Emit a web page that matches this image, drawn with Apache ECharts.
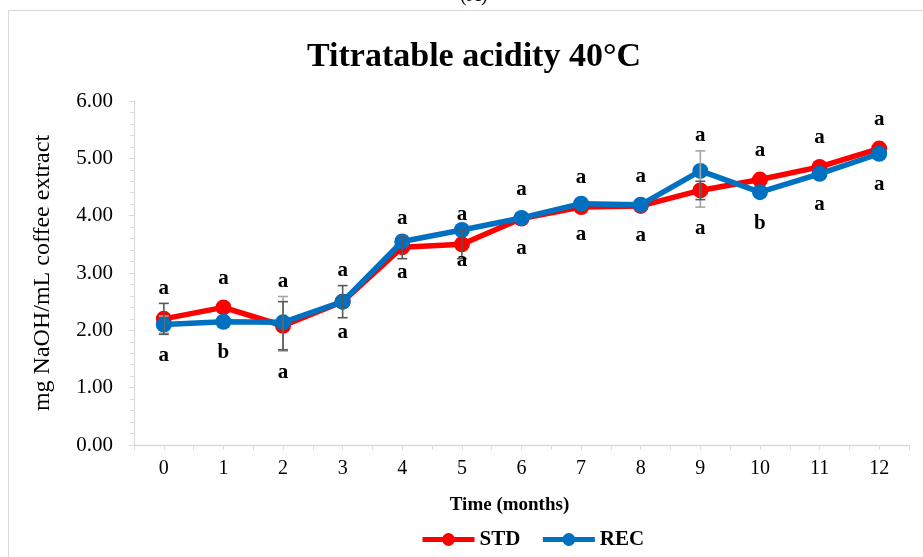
<!DOCTYPE html>
<html>
<head>
<meta charset="utf-8">
<script src="https://cdn.jsdelivr.net/npm/echarts@6/dist/echarts.min.js"></script>
<style>
  html, body { margin: 0; padding: 0; background: #fff; }
  #grafico { width: 923px; height: 557px; }
</style>
</head>
<body>
<div id="grafico"></div>
<script>
var meses = [0, 1, 2, 3, 4, 5, 6, 7, 8, 9, 10, 11, 12];
var std = [2.20, 2.40, 2.08, 2.50, 3.45, 3.50, 3.95, 4.15, 4.17, 4.44, 4.63, 4.85, 5.17];
var rec = [2.10, 2.15, 2.14, 2.50, 3.55, 3.75, 3.96, 4.21, 4.19, 4.78, 4.41, 4.73, 5.08];
var stdErroCima = [0.27, 0, 0.42, 0.28, 0.20, 0.25, 0, 0, 0, 0.16, 0, 0, 0];
var stdErroBaixo = [0.27, 0, 0.42, 0.28, 0.20, 0.25, 0, 0, 0, 0.16, 0, 0, 0];
var recErroCima = [0.15, 0, 0.45, 0, 0, 0, 0, 0, 0, 0.35, 0, 0, 0];
var recErroBaixo = [0.15, 0, 0.50, 0, 0, 0, 0, 0, 0, 0.63, 0, 0, 0];
var letrasStd = ['a', 'a', 'a', 'a', 'a', 'a', 'a', 'a', 'a', 'a', 'a', 'a', 'a'];
var letrasRec = ['a', 'b', 'a', 'a', 'a', 'a', 'a', 'a', 'a', 'a', 'b', 'a', 'a'];
var ticksY = ['0.00', '1.00', '2.00', '3.00', '4.00', '5.00', '6.00'];

var fonte = "'Liberation Serif', 'Times New Roman', serif";

window.addEventListener('load', start);

function start(){
    var myChart = echarts.init(document.getElementById('grafico'));

    function pares(valores){
        return valores.map(function (v, i) { return [meses[i], v]; });
    }

    function barraErro(valores, cima, baixo){
        return valores.map(function (v, i) { return [meses[i], v, cima[i], baixo[i]]; });
    }

    function desenhaErro(cor){
        return function (params, api) {
            var x = api.value(0), v = api.value(1);
            if (!api.value(2) && !api.value(3)) {
                return null;
            }
            var topo = api.coord([x, v + api.value(2)]);
            var base = api.coord([x, v - api.value(3)]);
            var estilo = { stroke: cor, lineWidth: 1.6 };
            return {
                type: 'group',
                children: [
                    { type: 'line', shape: { x1: topo[0], y1: topo[1], x2: base[0], y2: base[1] }, style: estilo },
                    { type: 'line', shape: { x1: topo[0] - 5, y1: topo[1], x2: topo[0] + 5, y2: topo[1] }, style: estilo },
                    { type: 'line', shape: { x1: base[0] - 5, y1: base[1], x2: base[0] + 5, y2: base[1] }, style: estilo }
                ]
            };
        };
    }

    function desenhaLetras(params, api){
        var i = params.dataIndex;
        var x = meses[i];
        var yStd = api.coord([x, std[i]])[1];
        var yRec = api.coord([x, rec[i]])[1];
        var yTopo = Math.min(yStd - 29,
            api.coord([x, std[i] + stdErroCima[i]])[1] - 15,
            api.coord([x, rec[i] + recErroCima[i]])[1] - 15);
        var yBase = Math.max(yRec + 31,
            api.coord([x, rec[i] - recErroBaixo[i]])[1] + 22);
        var px = api.coord([x, 0])[0];
        var estilo = { font: 'bold 21px ' + fonte, fill: '#000', align: 'center', verticalAlign: 'middle' };
        return {
            type: 'group',
            children: [
                { type: 'text', x: px, y: yTopo, style: Object.assign({ text: letrasStd[i] }, estilo) },
                { type: 'text', x: px, y: yBase, style: Object.assign({ text: letrasRec[i] }, estilo) }
            ]
        };
    }

    var option = {
        animation: false,
        backgroundColor: '#fff',
        title: {
            text: 'Titratable acidity 40°C',
            left: 302,
            top: 35,
            textStyle: { fontFamily: fonte, fontSize: 34, fontWeight: 'bold', color: '#000' }
        },
        graphic: [
            {
                type: 'rect',
                shape: { x: 8.5, y: 10.5, width: 1000, height: 1000 },
                style: { fill: 'none', stroke: '#d9d9d9', lineWidth: 1 },
                silent: true
            },
            {
                type: 'text',
                left: 460,
                top: -14,
                style: { text: '(A)', font: '20px ' + fonte, fill: '#000' },
                silent: true
            }
        ],
        legend: {
            left: 415,
            top: 524,
            itemWidth: 52,
            itemHeight: 16,
            itemGap: 20,
            lineStyle: { width: 5 },
            textStyle: { fontFamily: fonte, fontSize: 21, fontWeight: 'bold', color: '#000' },
            data: ['STD', 'REC']
        },
        grid: { left: 134, right: 14, top: 101, bottom: 112 },
        xAxis: {
            type: 'value',
            min: -0.5,
            max: 12.5,
            interval: 0.5,
            name: 'Time (months)',
            nameLocation: 'middle',
            nameGap: 51,
            nameTextStyle: { fontFamily: fonte, fontSize: 19, fontWeight: 'bold', color: '#000', padding: [0, 24, 0, 0] },
            axisLine: { onZero: false, lineStyle: { color: '#d9d9d9', width: 1.3 } },
            axisTick: { length: 5, lineStyle: { color: '#d9d9d9' } },
            splitLine: { show: false },
            axisLabel: {
                margin: 14,
                fontFamily: fonte,
                fontSize: 20,
                color: '#000',
                formatter: function (v) {
                    var i = meses.indexOf(v);
                    return i >= 0 ? String(meses[i]) : '';
                }
            }
        },
        yAxis: {
            type: 'value',
            min: 0,
            max: 6,
            interval: 1,
            name: 'mg NaOH/mL coffee extract',
            nameLocation: 'middle',
            nameGap: 79,
            nameTextStyle: { fontFamily: fonte, fontSize: 24, color: '#000' },
            axisLine: { show: true, onZero: false, lineStyle: { color: '#d9d9d9', width: 1.3 } },
            axisTick: { show: true, length: 5, lineStyle: { color: '#d9d9d9' } },
            minorTick: { show: true, splitNumber: 5, length: 4, lineStyle: { color: '#d9d9d9' } },
            splitLine: { show: false },
            axisLabel: {
                margin: 21,
                fontFamily: fonte,
                fontSize: 21,
                color: '#000',
                formatter: function (v) { return ticksY[Math.round(v)]; }
            }
        },
        series: [
            {
                name: 'STD',
                type: 'line',
                data: pares(std),
                symbol: 'circle',
                symbolSize: 16,
                color: '#ff0000',
                lineStyle: { width: 5.5, color: '#ff0000' },
                itemStyle: { color: '#ff0000' },
                z: 2
            },
            {
                name: 'REC',
                type: 'line',
                data: pares(rec),
                symbol: 'circle',
                symbolSize: 16,
                color: '#0070c0',
                lineStyle: { width: 5.5, color: '#0070c0' },
                itemStyle: { color: '#0070c0' },
                z: 3
            },
            {
                type: 'custom',
                renderItem: desenhaErro('#a6a6a6'),
                data: barraErro(rec, recErroCima, recErroBaixo),
                z: 4,
                silent: true
            },
            {
                type: 'custom',
                renderItem: desenhaErro('#595959'),
                data: barraErro(std, stdErroCima, stdErroBaixo),
                z: 5,
                silent: true
            },
            {
                type: 'custom',
                renderItem: desenhaLetras,
                data: pares(std),
                z: 6,
                silent: true
            }
        ]
    };

    myChart.setOption(option);
}
</script>
</body>
</html>
